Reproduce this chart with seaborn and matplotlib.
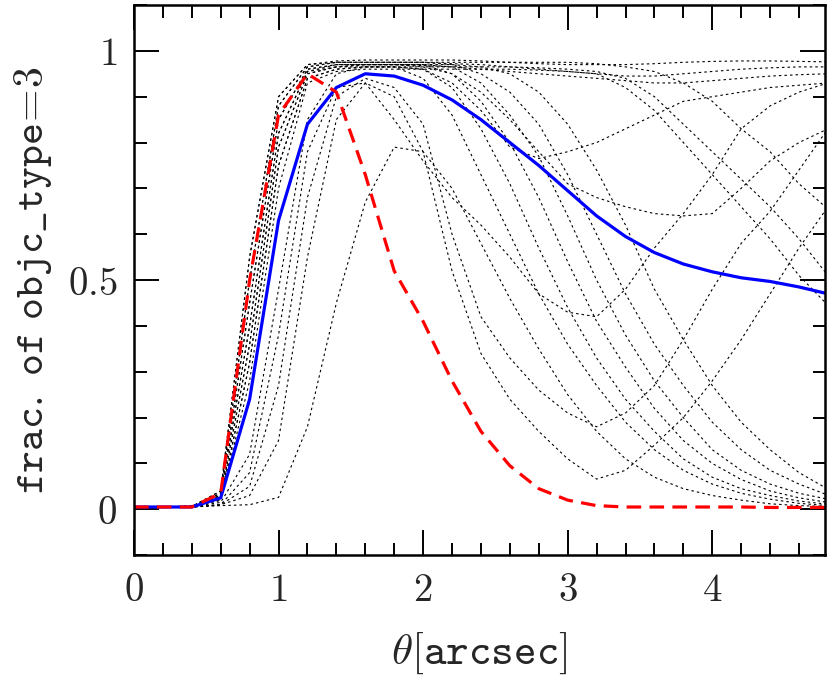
import numpy as np
import pandas as pd
import matplotlib
matplotlib.use('Agg')
import matplotlib.pyplot as plt
from matplotlib.ticker import MultipleLocator
import seaborn as sns

# Malla angular (arcsec)
theta = [0.0, 0.2, 0.4, 0.6, 0.8, 1.0, 1.2, 1.4, 1.6, 1.8, 2.0, 2.2, 2.4,
         2.6, 2.8, 3.0, 3.2, 3.4, 3.6, 3.8, 4.0, 4.2, 4.4, 4.6, 4.8]

# Curva promedio (azul) y curva de referencia (roja)
frac_media = [0.005, 0.005, 0.005, 0.025, 0.24, 0.63, 0.84, 0.92, 0.95, 0.945, 0.925, 0.893, 0.85,
              0.80, 0.75, 0.695, 0.64, 0.595, 0.56, 0.535, 0.518, 0.505, 0.497, 0.485, 0.47]
frac_ref = [0.005, 0.005, 0.005, 0.035, 0.50, 0.86, 0.95, 0.91, 0.73, 0.52, 0.41, 0.28, 0.17,
            0.095, 0.045, 0.02, 0.008, 0.005, 0.005, 0.005, 0.005, 0.005, 0.004, 0.004, 0.004]

# Curvas individuales (punteadas)
c_a = [0.005, 0.005, 0.006, 0.04, 0.55, 0.90, 0.97, 0.978, 0.98, 0.98, 0.98, 0.98, 0.978,
       0.975, 0.972, 0.97, 0.97, 0.97, 0.972, 0.975, 0.977, 0.978, 0.978, 0.977, 0.976]
c_b = [0.005, 0.005, 0.006, 0.035, 0.50, 0.88, 0.965, 0.975, 0.975, 0.975, 0.975, 0.972, 0.97,
       0.965, 0.96, 0.955, 0.95, 0.945, 0.945, 0.95, 0.955, 0.96, 0.963, 0.965, 0.965]
c_c = [0.005, 0.005, 0.006, 0.03, 0.45, 0.85, 0.96, 0.97, 0.97, 0.97, 0.968, 0.965, 0.96,
       0.955, 0.95, 0.945, 0.94, 0.935, 0.93, 0.93, 0.935, 0.94, 0.945, 0.948, 0.95]
c_d = [0.005, 0.005, 0.006, 0.03, 0.40, 0.82, 0.955, 0.965, 0.965, 0.965, 0.96, 0.93, 0.87,
       0.79, 0.765, 0.78, 0.80, 0.83, 0.86, 0.89, 0.90, 0.91, 0.92, 0.925, 0.93]
c_e = [0.005, 0.005, 0.006, 0.025, 0.36, 0.79, 0.95, 0.965, 0.97, 0.97, 0.965, 0.95, 0.91,
       0.85, 0.78, 0.71, 0.68, 0.66, 0.645, 0.64, 0.645, 0.70, 0.76, 0.80, 0.83]
c_f1 = [0.005, 0.005, 0.006, 0.02, 0.28, 0.70, 0.93, 0.955, 0.96, 0.96, 0.96, 0.96, 0.96,
        0.96, 0.958, 0.955, 0.95, 0.92, 0.87, 0.80, 0.73, 0.66, 0.59, 0.51, 0.445]
c_f2 = [0.005, 0.005, 0.006, 0.02, 0.32, 0.75, 0.94, 0.96, 0.965, 0.965, 0.965, 0.965, 0.965,
        0.965, 0.963, 0.96, 0.955, 0.94, 0.90, 0.84, 0.78, 0.72, 0.66, 0.59, 0.51]
c_f3 = [0.005, 0.005, 0.006, 0.04, 0.55, 0.90, 0.97, 0.975, 0.975, 0.975, 0.975, 0.975, 0.975,
        0.975, 0.975, 0.975, 0.972, 0.965, 0.955, 0.93, 0.89, 0.83, 0.78, 0.71, 0.655]
c_l1 = [0.005, 0.005, 0.005, 0.008, 0.01, 0.026, 0.18, 0.45, 0.67, 0.79, 0.78, 0.70, 0.58,
        0.46, 0.35, 0.25, 0.17, 0.11, 0.07, 0.045, 0.03, 0.02, 0.012, 0.008, 0.006]
c_l2 = [0.005, 0.005, 0.006, 0.015, 0.12, 0.48, 0.85, 0.95, 0.965, 0.965, 0.94, 0.86, 0.73,
        0.60, 0.47, 0.36, 0.27, 0.19, 0.13, 0.085, 0.055, 0.035, 0.022, 0.013, 0.008]
c_l3 = [0.005, 0.005, 0.007, 0.02, 0.32, 0.75, 0.94, 0.96, 0.965, 0.965, 0.96, 0.92, 0.83,
        0.71, 0.57, 0.44, 0.33, 0.24, 0.17, 0.11, 0.07, 0.045, 0.03, 0.018, 0.011]
c_l4 = [0.005, 0.005, 0.007, 0.025, 0.36, 0.79, 0.95, 0.965, 0.97, 0.97, 0.97, 0.95, 0.89,
        0.80, 0.68, 0.54, 0.41, 0.31, 0.22, 0.15, 0.10, 0.065, 0.04, 0.025, 0.015]
c_l5 = [0.005, 0.005, 0.007, 0.03, 0.40, 0.82, 0.955, 0.97, 0.97, 0.97, 0.97, 0.965, 0.93,
        0.86, 0.77, 0.64, 0.50, 0.38, 0.28, 0.20, 0.13, 0.085, 0.055, 0.035, 0.022]
c_l6 = [0.005, 0.005, 0.006, 0.035, 0.50, 0.88, 0.965, 0.975, 0.975, 0.975, 0.975, 0.97, 0.95,
        0.91, 0.84, 0.73, 0.60, 0.47, 0.36, 0.27, 0.19, 0.13, 0.085, 0.055, 0.031]
c_l7 = [0.005, 0.005, 0.006, 0.03, 0.45, 0.85, 0.96, 0.97, 0.97, 0.97, 0.97, 0.97, 0.965,
        0.95, 0.91, 0.84, 0.74, 0.62, 0.48, 0.37, 0.27, 0.19, 0.13, 0.08, 0.044]
c_v1 = [0.005, 0.005, 0.005, 0.01, 0.03, 0.15, 0.55, 0.85, 0.93, 0.90, 0.78, 0.52, 0.34,
        0.24, 0.17, 0.11, 0.066, 0.085, 0.14, 0.20, 0.28, 0.37, 0.47, 0.57, 0.66]
c_v2 = [0.005, 0.005, 0.005, 0.01, 0.05, 0.27, 0.68, 0.90, 0.94, 0.92, 0.84, 0.60, 0.42,
        0.33, 0.26, 0.21, 0.18, 0.21, 0.27, 0.37, 0.48, 0.58, 0.65, 0.74, 0.83]
c_v3 = [0.005, 0.005, 0.005, 0.01, 0.08, 0.38, 0.78, 0.92, 0.93, 0.85, 0.76, 0.68, 0.62,
        0.55, 0.47, 0.43, 0.42, 0.48, 0.57, 0.645, 0.73, 0.83, 0.88, 0.91, 0.93]

curvas = [c_a, c_b, c_c, c_d, c_e, c_f1, c_f2, c_f3, c_l1, c_l2, c_l3,
          c_l4, c_l5, c_l6, c_l7, c_v1, c_v2, c_v3]

x_ticks = [0, 1, 2, 3, 4]
x_ticklabels = ['$0$', '$1$', '$2$', '$3$', '$4$']
y_ticks = [0, 0.5, 1]
y_ticklabels = ['$0$', '$0.5$', '$1$']


def main():
    sns.set_style("ticks")
    plt.rcParams['mathtext.fontset'] = 'cm'
    plt.rcParams['font.family'] = ['DejaVu Serif']
    plt.rcParams['lines.scale_dashes'] = False

    fig = plt.figure(figsize=(8.3, 6.77), dpi=100)
    ax = fig.add_axes([0.1614, 0.180, 0.8326, 0.8126])

    # Curvas individuales
    for curva in curvas:
        sns.lineplot(x=theta, y=curva, ax=ax, color='black', lw=0.8,
                     linestyle=(0, (1.8, 2.2)))

    # Curva promedio y de referencia
    sns.lineplot(x=theta, y=frac_media, ax=ax, color='#0000ff', lw=2.3)
    sns.lineplot(x=theta, y=frac_ref, ax=ax, color='#ff0000', lw=2.3,
                 linestyle=(0, (10.5, 6)))

    ax.set_xlim(0, 4.78)
    ax.set_ylim(-0.1, 1.1)
    ax.set_xticks(x_ticks)
    ax.set_xticklabels(x_ticklabels)
    ax.set_yticks(y_ticks)
    ax.set_yticklabels(y_ticklabels)
    ax.xaxis.set_minor_locator(MultipleLocator(0.2))
    ax.yaxis.set_minor_locator(MultipleLocator(0.1))
    ax.tick_params(which='both', direction='in', top=True, right=True,
                   width=1.4, labelsize=28, pad=12, color='black')
    ax.tick_params(which='major', length=18)
    ax.tick_params(which='minor', length=9)
    for sp in ax.spines.values():
        sp.set_linewidth(1.8)
        sp.set_color('black')

    ax.set_xlabel(r'$\theta[\mathtt{arcsec}]$', fontsize=31, labelpad=16)
    ax.set_ylabel(r'$\mathtt{frac.\ of\ objc\_type\!=\!3}$', fontsize=30, labelpad=10)

    fig.savefig('out.png', dpi=100)
    plt.close(fig)


if __name__ == "__main__":
    main()
